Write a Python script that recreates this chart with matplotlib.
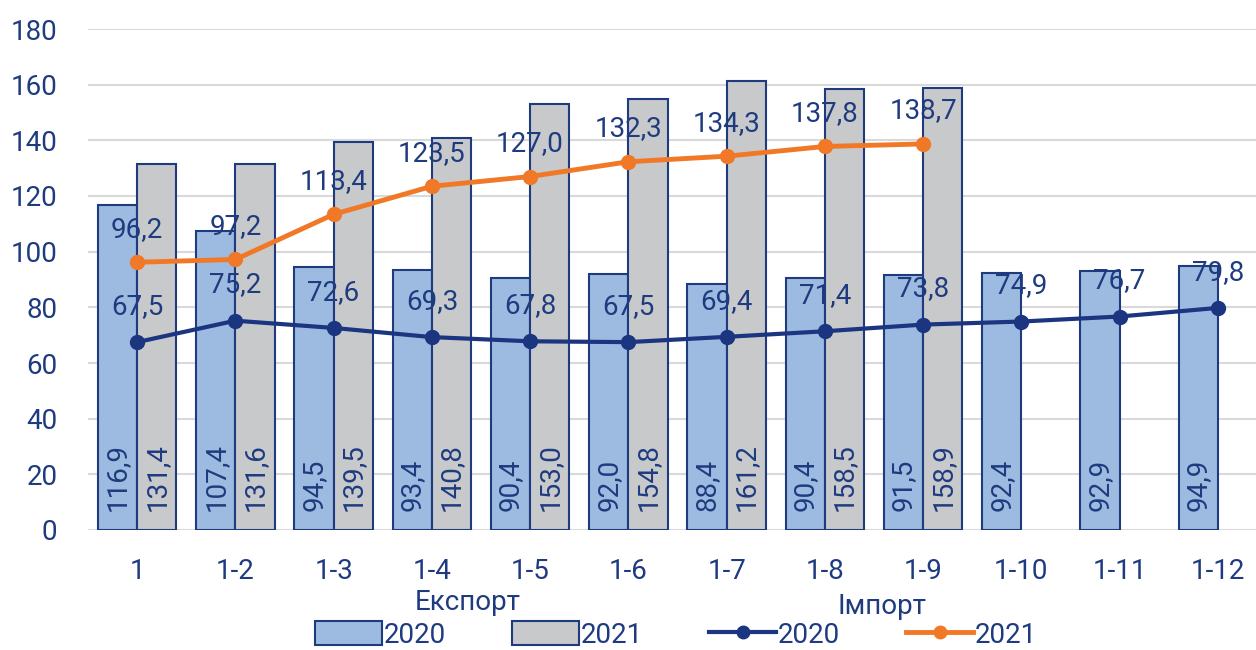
import matplotlib
matplotlib.use("Agg")
import matplotlib.pyplot as plt
from matplotlib.patches import Patch
from matplotlib.lines import Line2D
import numpy as np

plt.rcParams['font.family'] = ['Roboto', 'DejaVu Sans']

categories = ['1', '1-2', '1-3', '1-4', '1-5', '1-6', '1-7', '1-8', '1-9', '1-10', '1-11', '1-12']
export_2020 = [116.9, 107.4, 94.5, 93.4, 90.4, 92.0, 88.4, 90.4, 91.5, 92.4, 92.9, 94.9]
export_2021 = [131.4, 131.6, 139.5, 140.8, 153.0, 154.8, 161.2, 158.5, 158.9]
import_2020 = [67.5, 75.2, 72.6, 69.3, 67.8, 67.5, 69.4, 71.4, 73.8, 74.9, 76.7, 79.8]
import_2021 = [96.2, 97.2, 113.4, 123.5, 127.0, 132.3, 134.3, 137.8, 138.7]

navy = '#1F3B80'
c_bar20 = '#9DBBE0'
c_bar21 = '#C8C9CB'
c_line20 = '#1B3580'
c_line21 = '#F07826'
fs = 20

def fmt(v):
    return f"{v:.1f}".replace('.', ',')

fig = plt.figure(figsize=(12.56, 6.5), dpi=100)
ax = fig.add_axes([88 / 1256, 120 / 650, (1267 - 88) / 1256, 501 / 650])

x = np.arange(len(categories))
w = 0.4
ax.bar(x - w / 2, export_2020, w, color=c_bar20, edgecolor=navy, linewidth=1.5, zorder=2)
x21 = x[:len(export_2021)]
ax.bar(x21 + w / 2, export_2021, w, color=c_bar21, edgecolor=navy, linewidth=1.5, zorder=2)

for xi, v in zip(x - w / 2, export_2020):
    ax.annotate(fmt(v), (xi, 0), xytext=(0, 14), textcoords='offset points',
                rotation=90, ha='center', va='bottom', fontsize=fs, color=navy, zorder=5)
for xi, v in zip(x21 + w / 2, export_2021):
    ax.annotate(fmt(v), (xi, 0), xytext=(0, 14), textcoords='offset points',
                rotation=90, ha='center', va='bottom', fontsize=fs, color=navy, zorder=5)

ax.plot(x, import_2020, color=c_line20, lw=3, marker='o', ms=10, zorder=4)
ax.plot(x[:len(import_2021)], import_2021, color=c_line21, lw=3.5, marker='o', ms=10, zorder=4)

for xi, v in zip(x, import_2020):
    ax.annotate(fmt(v), (xi, v), xytext=(0, 16), textcoords='offset points',
                ha='center', va='bottom', fontsize=fs, color=navy, zorder=6)
for xi, v in zip(x[:len(import_2021)], import_2021):
    ax.annotate(fmt(v), (xi, v), xytext=(0, 14), textcoords='offset points',
                ha='center', va='bottom', fontsize=fs, color=navy, zorder=6)

ax.set_xlim(-0.5, len(categories) - 0.5)
ax.set_ylim(0, 180)
ax.set_yticks(range(0, 181, 20))
ax.set_xticks(x)
ax.set_xticklabels(categories)
ax.tick_params(axis='both', length=0, labelsize=fs, labelcolor=navy)
ax.tick_params(axis='y', pad=22)
ax.tick_params(axis='x', pad=20)
ax.grid(axis='y', color='#D9D9D9', lw=1.5, zorder=0)
ax.set_axisbelow(True)
for s in ax.spines.values():
    s.set_visible(False)

fig.text(468 / 1256, 1 - 603 / 650, 'Експорт', ha='center', va='center', fontsize=fs, color=navy)
fig.text(882 / 1256, 1 - 606 / 650, 'Імпорт', ha='center', va='center', fontsize=fs, color=navy)

handles = [
    Patch(facecolor=c_bar20, edgecolor=navy, linewidth=1.5),
    Patch(facecolor=c_bar21, edgecolor=navy, linewidth=1.5),
    Line2D([0], [0], color=c_line20, lw=3, marker='o', ms=9),
    Line2D([0], [0], color=c_line21, lw=3.5, marker='o', ms=9),
]
fig.legend(handles, ['2020', '2021', '2020', '2021'], ncol=4, loc='center',
           bbox_to_anchor=(676 / 1256, 1 - 635 / 650), frameon=False, fontsize=fs,
           labelcolor=navy, handlelength=2.4, handletextpad=0.05, columnspacing=2.4,
           handleheight=0.9)

fig.savefig('out.png', dpi=100)
